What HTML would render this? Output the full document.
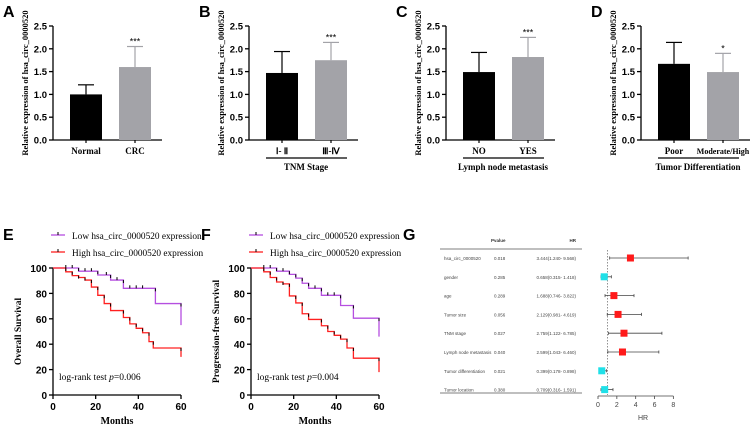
<!DOCTYPE html>
<html><head><meta charset="utf-8">
<style>
html,body{margin:0;padding:0;background:#fff;}
svg{display:block;}
.ser{font-family:"Liberation Serif",serif;}
.san{font-family:"Liberation Sans",sans-serif;}
</style></head>
<body>
<svg id="fig" width="756" height="427" viewBox="0 0 756 427" xmlns="http://www.w3.org/2000/svg"></svg>
<script>
// ---- Bar panel data ----
const barPanels = ["A","B","C","D"];
const barCats = [["Normal","CRC"],["Ⅰ- Ⅱ","Ⅲ-Ⅳ"],["NO","YES"],["Poor","Moderate/High"]];
const barMeans = [[1.0,1.6],[1.47,1.75],[1.49,1.82],[1.67,1.49]];
const barErrTop = [[1.21,2.05],[1.94,2.14],[1.92,2.25],[2.14,1.90]];
const barSig = ["***","***","***","*"];
const barGroupTitle = ["","TNM Stage","Lymph node metastasis","Tumor Differentiation"];
const barTicks = [0,0.5,1.0,1.5,2.0,2.5];
// ---- KM data ----
const kmTicks = [0,20,40,60];
const kmYTicks = [0,20,40,60,80,100];
const eLowT = [0,12,21,27,33,48,60];
const eLowS = [100,97.5,94.5,90.5,84,72,55];
const eHighT = [0,6,9,12,15,18,21,24,27,33,36,39,42,45,47,60];
const eHighS = [100,97,94,92.5,90.5,85,78.5,72,66.5,61,56,52.5,49,42,37,30];
const eLowCens = [6,9,15,18,25,30,36,39,42];
const fLowT = [0,12,18,21,24,27,33,42,48,60];
const fLowS = [100,97.5,95,92,88,84,78.5,70.5,60.5,46];
const fHighT = [0,6,9,12,15,18,21,24,27,33,36,39,42,45,48,60];
const fHighS = [100,97,92.5,89,87.5,78,72.5,64,59.5,54.5,50,47,44,37,29,18];
const fLowCens = [6,9,15,30,36,39];
// ---- Forest data ----
const fpNames = ["hsa_circ_0000520","gender","age","Tumor size","TNM stage","Lymph node metastasis","Tumor differentiation","Tumor location"];
const fpP = ["0.018","0.285","0.289","0.056","0.027","0.040","0.021","0.380"];
const fpHR = [3.444,0.658,1.688,2.129,2.759,2.599,0.399,0.709];
const fpLo = [1.240,0.315,0.746,0.981,1.122,1.043,0.178,0.316];
const fpHi = [9.568,1.418,3.822,4.619,6.785,6.460,0.898,1.591];
const fpTicks = [0,2,4,6,8];

const NS="http://www.w3.org/2000/svg";
const svg=document.getElementById('fig');
function mk(tag,attrs,parent,text){const e=document.createElementNS(NS,tag);for(const k in attrs)e.setAttribute(k,attrs[k]);if(text!==undefined)e.textContent=text;(parent||svg).appendChild(e);return e;}

const barAxisX=[53,249,446,641];
barPanels.forEach((P,i)=>{
  const g=mk('g',{});
  
  
  const ax=barAxisX[i];
  const y=v=>140-45.6*v;
  const lab=mk('text',{x:ax-50,y:17,'font-size':16,'font-weight':'bold',class:'san'},g,P);
  
  
  const yt=mk('text',{transform:`translate(${ax-25},${83}) rotate(-90)`,'text-anchor':'middle','font-size':8.5,'font-weight':'bold',class:'ser'},g,'Relative expression of hsa_circ_0000520');
  
  
  mk('line',{x1:ax,y1:y(2.5),x2:ax,y2:y(0),stroke:'#000','stroke-width':1.3},g);
  mk('line',{x1:ax,y1:y(0),x2:ax+109,y2:y(0),stroke:'#000','stroke-width':1.3},g);
  barTicks.forEach(t=>{
    mk('line',{x1:ax-4,y1:y(t),x2:ax,y2:y(t),stroke:'#000','stroke-width':1.3},g);
    const tl=mk('text',{x:ax-6,y:y(t)+3.5,'text-anchor':'end','font-size':9.5,'font-weight':'bold',class:'san'},g,t.toFixed(1));
    
    
  });
  [0,1].forEach(j=>{
    const x0=ax+17+j*49, w=32, cx=x0+w/2;
    mk('line',{x1:cx,y1:y(barMeans[i][j]),x2:cx,y2:y(barErrTop[i][j]),stroke:j?'#a3a3a8':'#000','stroke-width':1.2},g);
    mk('line',{x1:cx-8,y1:y(barErrTop[i][j]),x2:cx+8,y2:y(barErrTop[i][j]),stroke:j?'#a3a3a8':'#000','stroke-width':1.2},g);
    const b=mk('rect',{x:x0,y:y(barMeans[i][j]),width:w,height:y(0)-y(barMeans[i][j]),fill:j?'#a3a3a8':'#000'},g);
    
    
    mk('line',{x1:cx,y1:y(0),x2:cx,y2:y(0)+3,stroke:'#000','stroke-width':1.2},g);
    const cl=mk('text',{x:cx,y:154,'text-anchor':'middle','font-size':barCats[i][j].length>8?8:9,'font-weight':'bold',class:'ser'},g,barCats[i][j]);
    
    
    if(j===1){const s=mk('text',{x:cx,y:y(barErrTop[i][j])-2,'text-anchor':'middle','font-size':9,class:'san'},g,barSig[i]);
      
      }
  });
  if(barGroupTitle[i]){
    mk('line',{x1:ax+17,y1:158,x2:ax+98,y2:158,stroke:'#000','stroke-width':1.2},g);
    const gt=mk('text',{x:ax+57,y:170,'text-anchor':'middle','font-size':9,'font-weight':'bold',class:'ser'},g,barGroupTitle[i]);
    
    
  }
});

function km(P,ax,ytitle,pText,lowT,lowS,highT,highS,lowC){
  const g=mk('g',{});
  
  
  const x=t=>ax+t*(128/60), y=s=>395-s*1.27;
  const lab=mk('text',{x:ax-50,y:240,'font-size':16,'font-weight':'bold',class:'san'},g,P);
  
  
  [['#b54fe0','Low hsa_circ_0000520 expression',236],['#ff2020','High hsa_circ_0000520 expression',253]].forEach(([c,t,yy])=>{
    mk('line',{x1:ax-2,y1:yy-1,x2:ax+12,y2:yy-1,stroke:c,'stroke-width':1.3},g);
    mk('line',{x1:ax+5,y1:yy-4,x2:ax+5,y2:yy-1,stroke:'#000','stroke-width':1},g);
    const lt=mk('text',{x:ax+19,y:yy+3,'font-size':9.3,class:'ser'},g,t);
    
    
  });
  mk('line',{x1:ax,y1:y(100),x2:ax,y2:y(0),stroke:'#000','stroke-width':1.3},g);
  mk('line',{x1:ax,y1:y(0),x2:x(60),y2:y(0),stroke:'#000','stroke-width':1.3},g);
  kmYTicks.forEach(t=>{mk('line',{x1:ax-4,y1:y(t),x2:ax,y2:y(t),stroke:'#000','stroke-width':1.3},g);
    const tl=mk('text',{x:ax-6,y:y(t)+4,'text-anchor':'end','font-size':10,'font-weight':'bold',class:'san'},g,t);
    
    });
  kmTicks.forEach(t=>{mk('line',{x1:x(t),y1:y(0),x2:x(t),y2:y(0)+4,stroke:'#000','stroke-width':1.3},g);
    const tl=mk('text',{x:x(t),y:y(0)+15,'text-anchor':'middle','font-size':10,'font-weight':'bold',class:'san'},g,t);
    
    });
  const xt=mk('text',{x:x(30),y:424,'text-anchor':'middle','font-size':10,'font-weight':'bold',class:'ser'},g,'Months');
  
  
  const yt=mk('text',{transform:`translate(${ax-32},${y(50)}) rotate(-90)`,'text-anchor':'middle','font-size':9.5,'font-weight':'bold',class:'ser'},g,ytitle);
  
  
  const pt=mk('text',{x:ax+6,y:380,'font-size':9.5,class:'ser'},g);
  
  
  mk('tspan',{},pt,'log-rank test ');mk('tspan',{'font-style':'italic'},pt,'p');mk('tspan',{},pt,'=' + pText);
  function step(T,S,c,name){
    let d=`M${x(T[0])},${y(S[0])}`;
    for(let k=1;k<T.length;k++){d+=`H${x(T[k])}V${y(S[k])}`;}
    const p=mk('path',{d:d,fill:'none',stroke:c,'stroke-width':1.3},g);
    
    
    for(let k=1;k<T.length;k++) mk('line',{x1:x(T[k]),y1:y(S[k-1]),x2:x(T[k]),y2:y(S[k-1])+3,stroke:'#000','stroke-width':1},g);
  }
  step(lowT,lowS,'#b54fe0','low-expression-curve');
  step(highT,highS,'#ff2020','high-expression-curve');
  lowC.forEach(t=>{let s=lowS[0];for(let k=0;k<lowT.length;k++)if(lowT[k]<=t)s=lowS[k];
    mk('line',{x1:x(t),y1:y(s)-3,x2:x(t),y2:y(s),stroke:'#000','stroke-width':1},g);});
}
km('E',53,'Overall Survival','0.006',eLowT,eLowS,eHighT,eHighS,eLowCens);
km('F',251,'Progression-free Survival','0.004',fLowT,fLowS,fHighT,fHighS,fLowCens);

(function(){
  const g=mk('g',{});
  
  
  const lab=mk('text',{x:403,y:240,'font-size':16,'font-weight':'bold',class:'san'},g,'G');
  
  
  const x=v=>598+v*9.42, rowY=i=>258+i*18.8;
  mk('text',{x:491,y:242,'font-size':4.5,'font-weight':'bold',class:'san',fill:'#333'},g,'Pvalue');
  mk('text',{x:576,y:242,'font-size':4.5,'font-weight':'bold','text-anchor':'end',class:'san',fill:'#333'},g,'HR');
  mk('line',{x1:440,y1:249,x2:582,y2:249,stroke:'#555','stroke-width':0.8},g);
  mk('line',{x1:440,y1:393,x2:582,y2:393,stroke:'#555','stroke-width':0.8},g);
  mk('line',{x1:x(1),y1:250,x2:x(1),y2:395,stroke:'#777','stroke-width':0.8,'stroke-dasharray':'1.5,1.5'},g);
  fpNames.forEach((n,i)=>{
    const yy=rowY(i);
    const nt=mk('text',{x:444,y:yy+2,'font-size':4.5,class:'san',fill:'#444'},g,n);
    
    
    mk('text',{x:494,y:yy+2,'font-size':4.5,class:'san',fill:'#444'},g,fpP[i]);
    mk('text',{x:576,y:yy+2,'font-size':4.5,'text-anchor':'end',class:'san',fill:'#444'},g,`${fpHR[i].toFixed(3)}(${fpLo[i].toFixed(3)}- ${fpHi[i].toFixed(3)})`);
    const col=fpHR[i]>=1?'#ff1a1a':'#20e0e8';
    mk('line',{x1:x(fpLo[i]),y1:yy,x2:x(fpHi[i]),y2:yy,stroke:'#444','stroke-width':0.8},g);
    mk('line',{x1:x(fpLo[i]),y1:yy-1.5,x2:x(fpLo[i]),y2:yy+1.5,stroke:'#444','stroke-width':0.8},g);
    mk('line',{x1:x(fpHi[i]),y1:yy-1.5,x2:x(fpHi[i]),y2:yy+1.5,stroke:'#444','stroke-width':0.8},g);
    const r=mk('rect',{x:x(fpHR[i])-3.5,y:yy-3.5,width:7,height:7,fill:col},g);
    
    
  });
  mk('line',{x1:x(0),y1:396,x2:x(8),y2:396,stroke:'#444','stroke-width':0.8},g);
  fpTicks.forEach(t=>{mk('line',{x1:x(t),y1:396,x2:x(t),y2:399,stroke:'#444','stroke-width':0.8},g);
    const tl=mk('text',{x:x(t),y:407,'text-anchor':'middle','font-size':7,class:'san',fill:'#444'},g,t);
    
    });
  const xt=mk('text',{x:643,y:420,'text-anchor':'middle','font-size':7,class:'san',fill:'#444'},g,'HR');
  
  
})();
</script>
</body></html>
